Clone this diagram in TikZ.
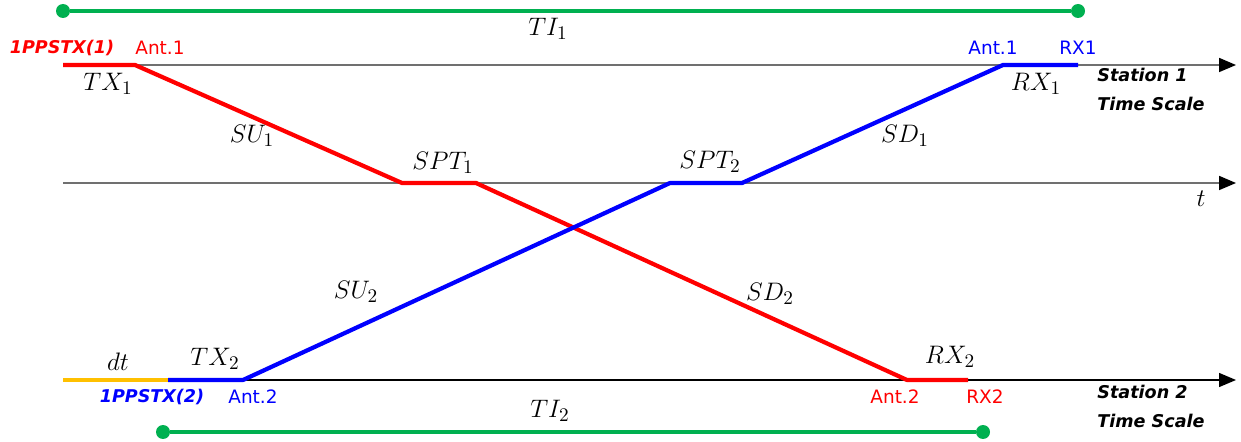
\documentclass[tikz,border=0pt]{standalone}
\usepackage{fontspec}
\setsansfont{DejaVu Sans}
\usetikzlibrary{arrows.meta, positioning, calc}
\definecolor{sigRed}{HTML}{FF0000}
\definecolor{sigBlue}{HTML}{0000FF}
\definecolor{tiGreen}{HTML}{00B050}
\definecolor{dtOrange}{HTML}{FFC000}
\definecolor{axisGray}{HTML}{707070}
\tikzset{
  axisA/.style={-{Triangle[length=3.4mm, width=2.8mm, black]}, color=axisGray, line width=1pt},
  axisB/.style={-{Triangle[length=3.4mm, width=2.8mm, black]}, black, line width=0.8pt},
  pathR/.style={sigRed, line width=2.4pt, line join=round},
  pathB/.style={sigBlue, line width=2.4pt, line join=round},
  pathDt/.style={dtOrange, line width=2.4pt},
  spanG/.style={tiGreen, line width=2.4pt},
  dotG/.style={circle, fill=tiGreen, inner sep=0pt, minimum size=2.8mm},
  lblM/.style={font=\fontsize{15.5}{16}\selectfont, inner sep=1pt},
  lblAnt/.style={font=\sffamily\fontsize{10.5}{11}\selectfont, inner sep=1pt},
  lblPps/.style={font=\sffamily\bfseries\itshape\fontsize{10}{11}\selectfont, inner sep=1pt},
  lblSta/.style={font=\sffamily\bfseries\itshape\fontsize{10}{16.5}\selectfont,
                 align=left, anchor=north west, inner sep=0pt},
}
\begin{document}
\begin{tikzpicture}[x=0.02cm, y=-0.02cm]
  \useasboundingbox (0,0) rectangle (1241,442);
  % time axes
  \coordinate (a1s) at (63,65);    \coordinate (a1e) at (1236,65);
  \coordinate (ams) at (63,183);   \coordinate (ame) at (1236,183);
  \coordinate (a2s) at (63,380);   \coordinate (a2e) at (1236,380);
  \draw[axisA] (a1s) -- (a1e);
  \draw[axisA] (ams) -- (ame);
  \draw[axisB] (a2s) -- (a2e);
  \node[lblM] (tlab) at (1201,199) {$t$};
  \node[lblSta] (sta1) at (1097,68) {Station 1\\Time Scale};
  \node[lblSta] (sta2) at (1097,385) {Station 2\\Time Scale};

  % station 1 -> station 2 (red)
  \coordinate (r0) at (63,65);   \coordinate (r1) at (135,65);
  \coordinate (r2) at (402,183); \coordinate (r3) at (476,183);
  \coordinate (r4) at (907,380); \coordinate (r5) at (968,380);
  \draw[pathR] (r0) -- (r1) -- (r2) -- (r3) -- (r4) -- (r5);

  % station 2 -> station 1 (blue)
  \coordinate (d0) at (63,380);
  \coordinate (b0) at (168,380); \coordinate (b1) at (243,380);
  \coordinate (b2) at (670,183); \coordinate (b3) at (742,183);
  \coordinate (b4) at (1003,65); \coordinate (b5) at (1078,65);
  \draw[pathDt] (d0) -- (b0);
  \draw[pathB] (b0) -- (b1) -- (b2) -- (b3) -- (b4) -- (b5);

  % time intervals
  \node[dotG] (ti1a) at (63,11) {};  \node[dotG] (ti1b) at (1078,11) {};
  \node[dotG] (ti2a) at (163,432) {}; \node[dotG] (ti2b) at (983,432) {};
  \draw[spanG] (ti1a) -- (ti1b);
  \draw[spanG] (ti2a) -- (ti2b);
  \node[lblM] (ti1) at (548,29) {$TI_1$};
  \node[lblM] (ti2) at (550,411) {$TI_2$};

  % labels, red path
  \node[lblPps, sigRed] (pps1) at (62,48) {1PPSTX(1)};
  \node[lblAnt, sigRed] (ant1r) at (160,48) {Ant.1};
  \node[lblM] (tx1) at (108,84) {$TX_1$};
  \node[lblM] (su1) at (252,136) {$SU_1$};
  \node[lblM] (spt1) at (443,163) {$SPT_1$};
  \node[lblM] (sd2) at (770,294) {$SD_2$};
  \node[lblM] (rx2) at (950,357) {$RX_2$};
  \node[lblAnt, sigRed] (ant2r) at (895,397) {Ant.2};
  \node[lblAnt, sigRed] (rx2r) at (985,397) {RX2};

  % labels, blue path
  \node[lblM] (dt) at (118,362) {$dt$};
  \node[lblM] (tx2) at (215,359) {$TX_2$};
  \node[lblPps, sigBlue] (pps2) at (152,397) {1PPSTX(2)};
  \node[lblAnt, sigBlue] (ant2b) at (253,397) {Ant.2};
  \node[lblM] (su2) at (356,292) {$SU_2$};
  \node[lblM] (spt2) at (710,162) {$SPT_2$};
  \node[lblM] (sd1) at (905,136) {$SD_1$};
  \node[lblM] (rx1) at (1036,84) {$RX_1$};
  \node[lblAnt, sigBlue] (ant1b) at (993,48) {Ant.1};
  \node[lblAnt, sigBlue] (rx1b) at (1078,48) {RX1};
\end{tikzpicture}
\end{document}
